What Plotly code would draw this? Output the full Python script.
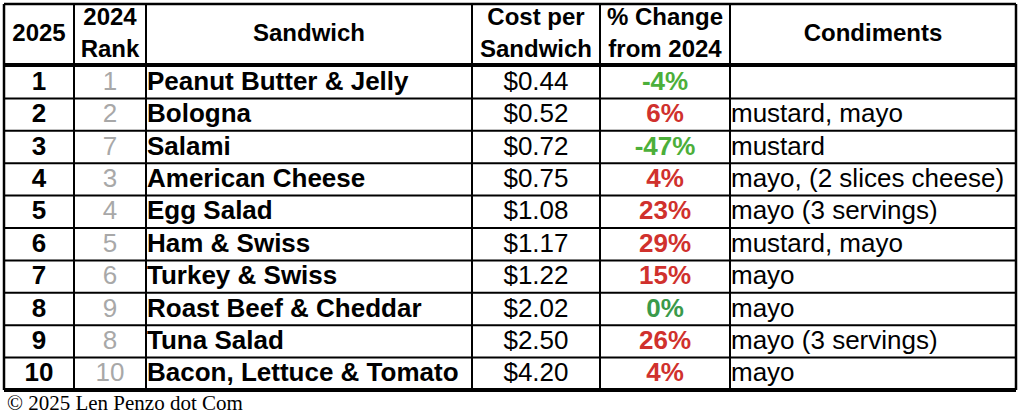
import plotly.graph_objects as go

rank_2025 = [1, 2, 3, 4, 5, 6, 7, 8, 9, 10]
rank_2024 = [1, 2, 7, 3, 4, 5, 6, 9, 8, 10]
sandwiches = ["Peanut Butter & Jelly", "Bologna", "Salami", "American Cheese", "Egg Salad",
              "Ham & Swiss", "Turkey & Swiss", "Roast Beef & Cheddar", "Tuna Salad",
              "Bacon, Lettuce & Tomato"]
costs = [0.44, 0.52, 0.72, 0.75, 1.08, 1.17, 1.22, 2.02, 2.50, 4.20]
pct_change = [-4, 6, -47, 4, 23, 29, 15, 0, 26, 4]
condiments = ["", "mustard, mayo", "mustard", "mayo, (2 slices cheese)", "mayo (3 servings)",
              "mustard, mayo", "mayo", "mayo", "mayo (3 servings)", "mayo"]
headers = ["2025", "2024<br>Rank", "Sandwich", "Cost per<br>Sandwich", "% Change<br>from 2024", "Condiments"]

def pct_color(v):
    if v < 0:
        return "#4caf3a"
    if v == 0:
        return "#3a9a4a"
    return "#d0312d"

n = len(rank_2025)
col_edges = [4, 74, 146, 472, 600, 730, 1016]
header_top, header_bot = 4, 64
row_top, row_h = 66, 32.4
row_edges = [row_top + i * row_h for i in range(n + 1)]
row_mid = [row_top + (i + 0.5) * row_h for i in range(n)]

cols = [
    [f"<b>{r}</b>" for r in rank_2025],
    [str(r) for r in rank_2024],
    [f"<b>{s}</b>" for s in sandwiches],
    [f"${c:.2f}" for c in costs],
    [f"<b>{p}%</b>" for p in pct_change],
    condiments,
]
colors = [["black"] * n, ["#a8a8a8"] * n, ["black"] * n, ["black"] * n,
          [pct_color(p) for p in pct_change], ["black"] * n]
aligns = ["center", "center", "left", "center", "center", "left"]

fig = go.Figure()
FONT = "Liberation Sans"
for j in range(6):
    l, r = col_edges[j], col_edges[j + 1]
    if aligns[j] == "center":
        x, pos = (l + r) / 2, "middle center"
    else:
        x, pos = l + 1, "middle right"
    fig.add_trace(go.Scatter(x=[x] * n, y=[m + 1 for m in row_mid], mode="text", text=cols[j],
                             textposition=pos, hoverinfo="skip",
                             textfont=dict(family=FONT, size=26, color=colors[j])))
    fig.add_trace(go.Scatter(x=[(l + r) / 2], y=[(header_top + header_bot) / 2 + 1], mode="text",
                             text=[f"<b>{headers[j]}</b>"], textposition="middle center",
                             hoverinfo="skip",
                             textfont=dict(family=FONT, size=24, color="black")))

shapes = []
def line(x0, y0, x1, y1, w):
    shapes.append(dict(type="line", xref="x", yref="y", x0=x0, y0=y0, x1=x1, y1=y1,
                       line=dict(color="black", width=w)))
for i, y in enumerate(row_edges[1:-1]):
    line(col_edges[0], y, col_edges[-1], y, 2)
for x in col_edges[1:-1]:
    line(x, header_top, x, row_edges[-1], 2)
line(col_edges[0], header_top, col_edges[-1], header_top, 2.5)
line(col_edges[0], header_bot + 1, col_edges[-1], header_bot + 1, 4)
line(col_edges[0], row_edges[-1], col_edges[-1], row_edges[-1], 4)
line(col_edges[0], header_top, col_edges[0], row_edges[-1], 2.5)
line(col_edges[-1], header_top, col_edges[-1], row_edges[-1], 2.5)

fig.add_annotation(text="© 2025 Len Penzo dot Com", xref="x", yref="y",
                   x=5, y=403, xanchor="left", yanchor="middle", showarrow=False,
                   font=dict(family="Liberation Serif", size=21, color="black"))
fig.update_layout(width=1024, height=415, margin=dict(l=0, r=0, t=0, b=0),
                  paper_bgcolor="white", plot_bgcolor="white", showlegend=False,
                  shapes=shapes,
                  xaxis=dict(range=[0, 1024], visible=False, fixedrange=True),
                  yaxis=dict(range=[415, 0], visible=False, fixedrange=True))
fig.write_html("out.html", config={"displayModeBar": False})

# remove the browser's default body margin so the figure sits at the window's corner
with open("out.html", encoding="utf-8") as f:
    html = f.read()
html = html.replace("<head>", "<head><style>html,body{margin:0;padding:0;overflow:hidden}</style>", 1)
with open("out.html", "w", encoding="utf-8") as f:
    f.write(html)
